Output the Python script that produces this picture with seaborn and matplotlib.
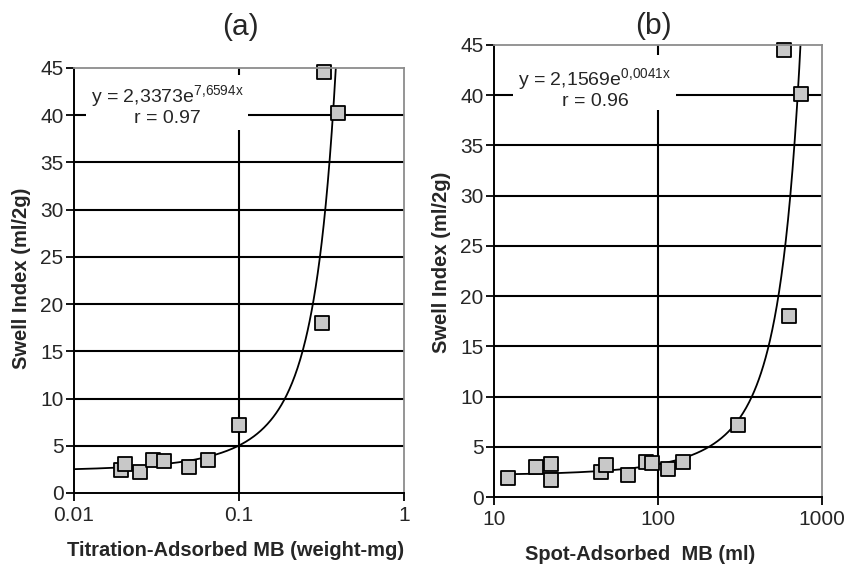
import numpy as np
import pandas as pd
import matplotlib
matplotlib.use("Agg")
import matplotlib.pyplot as plt
from matplotlib.patches import Rectangle
import seaborn as sns

# ---------------- data ----------------
# panel (a)
titration_mb = [0.0193, 0.0205, 0.0251, 0.0302, 0.0350, 0.0498, 0.0645, 0.0996, 0.320, 0.327, 0.396]
swell_a = [2.46, 3.05, 2.25, 3.48, 3.34, 2.80, 3.46, 7.17, 17.95, 44.6, 40.25]
fit_a = (2.3373, 7.6594)      # y = A e^(k x)
r_a = 0.97

# panel (b)
spot_mb = [12.1, 18.0, 22.3, 22.4, 44.9, 48.2, 65.9, 84.5, 91.6, 114.6, 142.5, 306, 631, 586, 745]
swell_b = [1.92, 2.95, 3.30, 1.69, 2.52, 3.19, 2.24, 3.52, 3.42, 2.76, 3.52, 7.17, 18.03, 44.5, 40.1]
fit_b = (2.1569, 0.0041)
r_b = 0.96

yticks = [0, 5, 10, 15, 20, 25, 30, 35, 40, 45]
xticks_a = [0.01, 0.1, 1]
xticklabels_a = ["0.01", "0.1", "1"]
xticks_b = [10, 100, 1000]
xticklabels_b = ["10", "100", "1000"]

# ---------------- style ----------------
sns.set_style("white")
plt.rcParams["font.family"] = ["Liberation Sans", "DejaVu Sans"]
plt.rcParams["mathtext.fontset"] = "custom"
plt.rcParams["mathtext.rm"] = "Liberation Sans"
plt.rcParams["mathtext.it"] = "Liberation Sans:italic"
plt.rcParams["mathtext.bf"] = "Liberation Sans:bold"

fig = plt.figure(figsize=(8.45, 5.66), dpi=100)
ax_a = fig.add_axes([0.0876, 0.129, 0.3905, 0.751])
ax_b = fig.add_axes([0.5846, 0.1219, 0.388, 0.7986])


def draw_panel(ax, x, y, fit, xlim, xticks, xticklabels, xmid, curve_range,
               eq_text, box, txt_pos):
    ax.set_xscale("log")
    ax.set_xlim(*xlim)
    ax.set_ylim(0, 45)
    # gridlines
    for yv in yticks[1:-1]:
        ax.axhline(yv, color="black", lw=1.5, zorder=1)
    ax.axvline(xmid, color="black", lw=1.5, zorder=1)
    # white equation box
    ax.add_patch(Rectangle((box[0], box[1]), box[2] - box[0], box[3] - box[1],
                           transform=ax.transAxes, facecolor="white",
                           edgecolor="none", zorder=2))
    ax.text(txt_pos[0], txt_pos[1], eq_text, transform=ax.transAxes,
            ha="center", va="center", fontsize=14, zorder=3, linespacing=1.05,
            multialignment="center")
    # fitted curve
    A, k = fit
    xc = np.geomspace(curve_range[0], curve_range[1], 400)
    dfc = pd.DataFrame({"x": xc, "y": A * np.exp(k * xc)})
    sns.lineplot(data=dfc, x="x", y="y", color="black", lw=1.3, ax=ax,
                 estimator=None, sort=True, zorder=3)
    # points
    dfp = pd.DataFrame({"x": x, "y": y})
    sns.scatterplot(data=dfp, x="x", y="y", marker="s", s=105, color="#c8c8c8",
                    edgecolor="black", linewidth=1.3, ax=ax, zorder=4, clip_on=False)
    ax.set_xlim(*xlim)
    ax.set_ylim(0, 45)
    ax.set_xticks(xticks)
    ax.set_xticklabels(xticklabels)
    ax.xaxis.set_minor_locator(matplotlib.ticker.NullLocator())
    ax.set_yticks(yticks)
    ax.set_yticklabels([str(v) for v in yticks])
    ax.tick_params(axis="both", direction="out", length=6, width=1.3,
                   labelsize=15, color="black", left=True, bottom=True)
    ax.tick_params(axis="y", pad=1.5)
    ax.tick_params(axis="x", pad=3.5)
    for s in ("left", "bottom"):
        ax.spines[s].set_color("black")
        ax.spines[s].set_linewidth(1.4)
        ax.spines[s].set_zorder(5)
    for s in ("top", "right"):
        ax.spines[s].set_color("#8c8c8c")
        ax.spines[s].set_linewidth(1.3)
        ax.spines[s].set_zorder(5)
    ax.set_xlabel("")
    ax.set_ylabel("")


draw_panel(ax_a, titration_mb, swell_a, fit_a, (0.01, 1), xticks_a, xticklabels_a, 0.1,
           (0.01, 0.42),
           "y = 2,3373e$\\mathregular{^{7{,}6594x}}$\nr = %.2f" % r_a,
           (0.036, 0.854, 0.527, 0.984), (0.282, 0.912))
draw_panel(ax_b, spot_mb, swell_b, fit_b, (10, 1000), xticks_b, xticklabels_b, 100,
           (12.1, 800),
           "y = 2,1569e$\\mathregular{^{0{,}0041x}}$\nr = %.2f" % r_b,
           (0.058, 0.856, 0.555, 0.978), (0.308, 0.905))

# axis labels
fig.text(22 / 845, 1 - 278 / 566, "Swell Index (ml/2g)", rotation=90,
         ha="center", va="center", fontsize=14.5, fontweight="bold")
fig.text(442 / 845, 1 - 262 / 566, "Swell Index (ml/2g)", rotation=90,
         ha="center", va="center", fontsize=14.5, fontweight="bold")
fig.text(236 / 845, 1 - 550 / 566, "Titration-Adsorbed MB (weight-mg)",
         ha="center", va="center", fontsize=14.5, fontweight="bold")
fig.text(640 / 845, 1 - 554 / 566, "Spot-Adsorbed  MB (ml)",
         ha="center", va="center", fontsize=14.5, fontweight="bold")

fig.text(240 / 845, 1 - 27 / 566, "(a)", ha="center", va="center", fontsize=21.5)
fig.text(653 / 845, 1 - 26 / 566, "(b)", ha="center", va="center", fontsize=21.5)

fig.savefig("out.png", dpi=100, facecolor="white")
